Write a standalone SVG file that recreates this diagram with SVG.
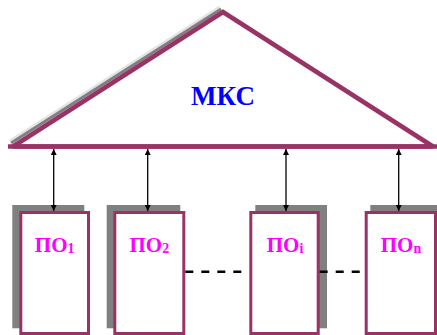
<svg xmlns="http://www.w3.org/2000/svg" width="437" height="335" viewBox="0 0 437 335">
<defs>
<style>
.frame{fill:#ffffff;stroke:#993366;stroke-width:3}
.shadow{fill:#808080;stroke:none}
.lbl{font-family:"Liberation Serif","Times New Roman",serif;font-weight:bold;fill:#ff00ff;font-size:21px;text-anchor:middle}
.sub{font-size:14px}
.link{stroke:#000000;stroke-width:1.3;fill:none;marker-start:url(#ah);marker-end:url(#ah)}
.dash{stroke:#000000;stroke-width:2.5;stroke-dasharray:8 8;fill:none}
</style>
<marker id="ah" viewBox="0 0 10 10" refX="10" refY="5" markerWidth="6" markerHeight="6" markerUnits="userSpaceOnUse" orient="auto-start-reverse">
<path d="M0,0 L10,5 L0,10 z" fill="#000000"/>
</marker>
</defs>
<rect width="437" height="335" fill="#ffffff"/>
<g id="mks">
<line x1="9.8" y1="140.9" x2="219.8" y2="6.9" stroke="#e4e4e4" stroke-width="3"/>
<line x1="11.1" y1="143" x2="221.1" y2="9" stroke="#808080" stroke-width="3"/>
<polygon points="13,146.5 223,12 433,146.5" fill="#ffffff" stroke="#993366" stroke-width="4.5" stroke-linejoin="miter" stroke-miterlimit="2"/>
<line x1="8" y1="146.5" x2="437" y2="146.5" stroke="#993366" stroke-width="4.5"/>
<text x="223" y="105" font-family="'Liberation Serif','Times New Roman',serif" font-weight="bold" font-size="27" fill="#0000ff" text-anchor="middle">МКС</text>
</g>
<g id="po1">
<rect class="shadow" x="12.3" y="205" width="72" height="123.3"/>
<rect class="frame" x="20.8" y="212.5" width="67.7" height="121"/>
<text class="lbl" x="54.7" y="252">ПО<tspan class="sub" dy="1">1</tspan></text>
</g>
<g id="po2">
<rect class="shadow" x="106.7" y="205" width="73.6" height="123.3"/>
<rect class="frame" x="114.8" y="212.5" width="69" height="121"/>
<text class="lbl" x="149.3" y="252">ПО<tspan class="sub" dy="1">2</tspan></text>
</g>
<g id="poi">
<rect class="shadow" x="255.3" y="205" width="71.7" height="123.3"/>
<rect class="frame" x="250.8" y="212.5" width="67.4" height="121"/>
<text class="lbl" x="285" y="252">ПО<tspan class="sub" dy="1">i</tspan></text>
</g>
<g id="pon">
<rect class="shadow" x="370.3" y="205" width="70" height="123.3"/>
<rect class="frame" x="366.2" y="212.5" width="69.3" height="121"/>
<text class="lbl" x="401" y="252">ПО<tspan class="sub" dy="1">n</tspan></text>
</g>
<g id="connectors">
<line class="link" x1="53.7" y1="149" x2="53.7" y2="211"/>
<line class="link" x1="147.7" y1="149" x2="147.7" y2="211"/>
<line class="link" x1="286" y1="149" x2="286" y2="211"/>
<line class="link" x1="398.7" y1="149" x2="398.7" y2="211"/>
<line class="dash" x1="185.3" y1="271.7" x2="249.3" y2="271.7"/>
<line class="dash" x1="319.7" y1="271.7" x2="364.7" y2="271.7"/>
</g>
</svg>
